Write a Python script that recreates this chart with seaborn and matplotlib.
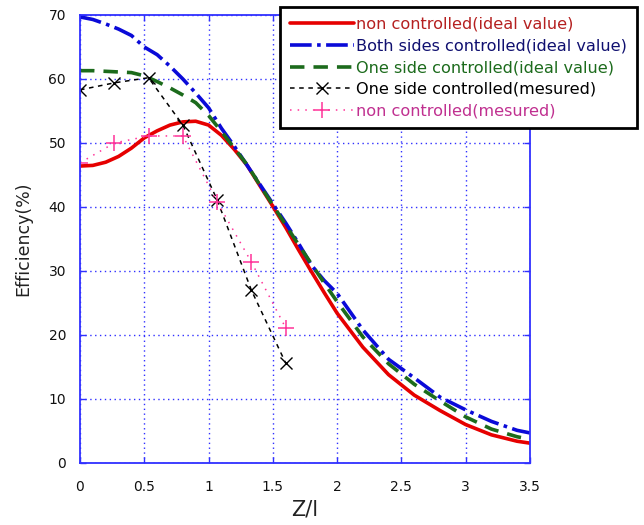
import matplotlib
matplotlib.use("Agg")
import matplotlib.pyplot as plt
import seaborn as sns
import pandas as pd

# ---- data ----
x_ideal = [0, 0.1, 0.2, 0.3, 0.4, 0.5, 0.6, 0.7, 0.8, 0.9, 1.0, 1.1, 1.2, 1.3, 1.4,
           1.5, 1.6, 1.7, 1.8, 1.9, 2.0, 2.2, 2.4, 2.6, 2.8, 3.0, 3.2, 3.4, 3.5]
non_ctrl_ideal = [46.4, 46.5, 47.0, 47.9, 49.2, 50.8, 51.9, 52.8, 53.3, 53.4, 52.8, 51.2,
                  49.0, 46.5, 43.3, 40.1, 36.8, 33.3, 29.9, 26.6, 23.4, 18.1, 13.8, 10.6,
                  8.2, 6.0, 4.4, 3.4, 3.1]
both_ctrl_ideal = [69.7, 69.3, 68.6, 67.8, 66.8, 65.0, 63.8, 62.0, 60.0, 57.8, 55.5, 52.3,
                   49.5, 46.5, 43.5, 40.5, 37.5, 34.3, 30.9, 28.5, 26.5, 20.8, 16.2, 13.3,
                   10.3, 8.3, 6.5, 5.1, 4.7]
one_ctrl_ideal = [61.3, 61.3, 61.2, 61.1, 61.0, 60.5, 59.6, 58.6, 57.5, 56.3, 54.3, 51.8,
                  49.2, 46.6, 43.4, 40.3, 37.2, 34.1, 31.1, 28.1, 25.2, 19.7, 15.5, 12.3,
                  9.7, 7.2, 5.3, 4.1, 3.7]
x_meas = [0, 0.267, 0.533, 0.8, 1.067, 1.333, 1.6]
one_ctrl_meas = [58.3, 59.4, 60.2, 52.8, 41.1, 27.0, 15.6]
non_ctrl_meas = [46.9, 50.0, 51.1, 51.1, 40.8, 31.4, 21.1]

labels = ["non controlled(ideal value)", "Both sides controlled(ideal value)",
          "One side controlled(ideal value)", "One side controlled(mesured)",
          "non controlled(mesured)"]
x_ticks = [0, 0.5, 1, 1.5, 2, 2.5, 3, 3.5]
x_tick_labels = ["0", "0.5", "1", "1.5", "2", "2.5", "3", "3.5"]
y_ticks = [0, 10, 20, 30, 40, 50, 60, 70]

# ---- style ----
sns.set_theme(style="white")
plt.rcParams["font.family"] = ["DejaVu Sans"]

RED = "#e60000"
BLUE = "#0a0ad8"
GREEN = "#1c6b1c"
BLACK = "#000000"
MAG = "#ff3399"
AXC = "#3030ff"

fig = plt.figure(figsize=(6.44, 5.25), dpi=100)
ax = fig.add_axes([80 / 644, 62 / 525, 450 / 644, 448 / 525])

df1 = pd.DataFrame({"x": x_ideal, "y": non_ctrl_ideal})
df2 = pd.DataFrame({"x": x_ideal, "y": both_ctrl_ideal})
df3 = pd.DataFrame({"x": x_ideal, "y": one_ctrl_ideal})
df4 = pd.DataFrame({"x": x_meas, "y": one_ctrl_meas})
df5 = pd.DataFrame({"x": x_meas, "y": non_ctrl_meas})

sns.lineplot(data=df1, x="x", y="y", ax=ax, color=RED, lw=2.6, label=labels[0],
             sort=False, estimator=None)
sns.lineplot(data=df2, x="x", y="y", ax=ax, color=BLUE, lw=2.6, label=labels[1],
             sort=False, estimator=None, linestyle=(0, (6, 1.5, 1, 1.5)))
sns.lineplot(data=df3, x="x", y="y", ax=ax, color=GREEN, lw=2.6, label=labels[2],
             sort=False, estimator=None, linestyle=(0, (4, 2.5)))
sns.lineplot(data=df4, x="x", y="y", ax=ax, color=BLACK, lw=1.1, label=labels[3],
             sort=False, estimator=None, linestyle=(0, (3, 3)), marker="x",
             markersize=9, markeredgewidth=1.0, markeredgecolor=BLACK)
sns.lineplot(data=df5, x="x", y="y", ax=ax, color=MAG, lw=1.1, label=labels[4],
             sort=False, estimator=None, linestyle=(0, (1, 4)), marker="+",
             markersize=11, markeredgewidth=1.1, markeredgecolor=MAG)

ax.set_xlim(0, 3.5)
ax.set_ylim(0, 70)
ax.set_xticks(x_ticks)
ax.set_xticklabels(x_tick_labels)
ax.set_yticks(y_ticks)
ax.grid(True, color=AXC, linestyle=(0, (1, 2.5)), linewidth=1.0)
for s in ax.spines.values():
    s.set_color(AXC)
    s.set_linewidth(1.3)
ax.tick_params(axis="both", direction="in", length=4, width=1, color=AXC,
               labelsize=10, labelcolor="#111111", pad=10,
               top=True, right=True, bottom=True, left=True)
ax.tick_params(axis="x", pad=12)
ax.set_xlabel("Z/l", fontsize=15, color="#222222", labelpad=4)
ax.set_ylabel("Efficiency(%)", fontsize=12.5, color="#222222", labelpad=12)

leg = ax.legend(loc="upper right", bbox_to_anchor=(637 / 644, 1 - 7 / 525),
                bbox_transform=fig.transFigure, fontsize=11.6, frameon=True,
                fancybox=False, shadow=False, handlelength=4.0, handletextpad=0.15,
                labelspacing=0.42, borderpad=0.6, borderaxespad=0)
leg.get_frame().set_edgecolor("black")
leg.get_frame().set_linewidth(2.0)
leg.get_frame().set_alpha(1.0)
text_colors = ["#b52020", "#101070", "#1c6b1c", "#000000", "#c03090"]
for t, c in zip(leg.get_texts(), text_colors):
    t.set_color(c)
leg.set_zorder(10)

fig.savefig("out.png", dpi=100)
